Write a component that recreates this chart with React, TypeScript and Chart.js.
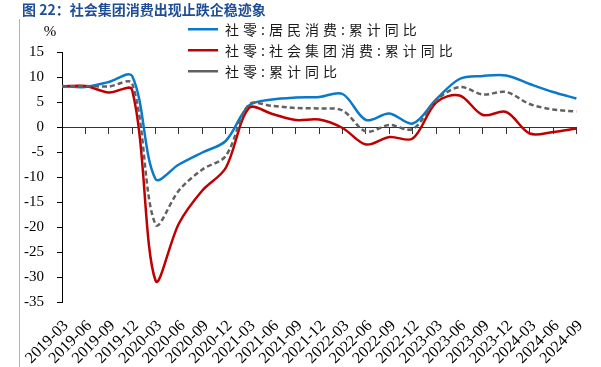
import React, { useEffect, useRef } from 'react';
import { Chart, registerables } from 'chart.js';

Chart.register(...registerables);

// ---------- data ----------
const TITLE = '图 22：社会集团消费出现止跌企稳迹象';
const UNIT = '%';
const CATEGORIES = [
  '2019-03', '2019-06', '2019-09', '2019-12',
  '2020-03', '2020-06', '2020-09', '2020-12',
  '2021-03', '2021-06', '2021-09', '2021-12',
  '2022-03', '2022-06', '2022-09', '2022-12',
  '2023-03', '2023-06', '2023-09', '2023-12',
  '2024-03', '2024-06', '2024-09',
];
const SERIES_NAMES = ['社零:居民消费:累计同比', '社零:社会集团消费:累计同比', '社零:累计同比'];
const HOUSEHOLD = [8.3, 8.1, 9.1, 10.3, -10.3, -7.4, -5.0, -2.7, 4.4, 5.6, 6.0, 6.1, 6.7, 1.5, 2.8, 0.8, 5.6, 9.7, 10.3, 10.4, 8.7, 7.1, 5.8];
const GROUP = [8.2, 8.3, 7.0, 7.5, -30.6, -19.2, -12.6, -8.1, 3.9, 2.7, 1.5, 1.6, -0.1, -3.4, -1.9, -2.2, 5.0, 6.4, 2.5, 3.1, -1.2, -0.9, -0.2];
const TOTAL = [8.2, 8.3, 8.2, 8.8, -19.4, -12.6, -8.4, -5.7, 4.6, 4.3, 3.9, 3.8, 3.4, -0.8, 0.5, -0.3, 5.4, 8.1, 6.6, 7.1, 4.7, 3.6, 3.2];
const Y_MIN = -35;
const Y_MAX = 15;
const Y_STEP = 5;

// ---------- styles ----------
const BLUE = '#0b79ca';
const RED = '#c00000';
const GRAY = '#616161';
const TITLE_COLOR = '#1f4e96';
const SERIF = '"Liberation Serif", "Times New Roman", serif';
const CJK = '"Noto Sans CJK SC", "Noto Sans", sans-serif';
const LEGEND_SPACING = '4px';
const LEGEND_X = 188;
const LEGEND_Y = 22.3;
const LEGEND_PAD = 7;
const TITLE_X = 22;
const TENSION = 0.33;

const legendPlacer = {
  id: 'legendPlacer',
  afterInit(chart: any) {
    const lg = chart.legend;
    if (!lg || lg._patched) return;
    lg._patched = true;
    const origFit = lg.fit.bind(lg);
    lg.fit = function () {
      const ctx = chart.ctx;
      const prev = ctx.letterSpacing;
      ctx.letterSpacing = LEGEND_SPACING;
      origFit();
      ctx.letterSpacing = prev;
      lg.height = 0;
    };
    const origDraw = lg.draw.bind(lg);
    lg.draw = function (...args: any[]) {
      const ctx = chart.ctx;
      ctx.save();
      ctx.letterSpacing = LEGEND_SPACING;
      origDraw(...args);
      ctx.restore();
    };
  },
  afterLayout(chart: any) {
    const lg = chart.legend;
    if (lg) {
      lg.left = LEGEND_X - LEGEND_PAD;
      lg.right = lg.left + 300;
      lg.top = LEGEND_Y - LEGEND_PAD;
      lg.bottom = lg.top + 80;
    }
    const tb = chart.titleBlock;
    if (tb) {
      tb.left = TITLE_X;
      tb.right = TITLE_X + 520;
    }
  },
};

const decorPlugin = {
  id: 'decor',
  afterDraw(chart: any) {
    const ctx = chart.ctx;
    ctx.save();
    ctx.strokeStyle = '#b4b4b4';
    ctx.lineWidth = 1;
    ctx.beginPath();
    ctx.moveTo(19.5, 19);
    ctx.lineTo(19.5, chart.height);
    ctx.stroke();
    ctx.fillStyle = '#000';
    ctx.font = '15px ' + SERIF;
    ctx.textAlign = 'center';
    ctx.textBaseline = 'middle';
    ctx.fillText(UNIT, 50, 32.5);
    ctx.restore();
  },
};

export default function App() {
  const ref = useRef<HTMLCanvasElement>(null);

  useEffect(() => {
    document.body.style.margin = '0';
    const canvas = ref.current;
    if (!canvas) return;
    const chart = new Chart(canvas, {
      type: 'line',
      data: {
        labels: CATEGORIES,
        datasets: [
          {
            label: SERIES_NAMES[0],
            data: HOUSEHOLD,
            borderColor: BLUE,
            backgroundColor: BLUE,
            borderWidth: 2.5,
            pointRadius: 0,
            tension: TENSION,
            fill: false,
            order: 2,
          },
          {
            label: SERIES_NAMES[1],
            data: GROUP,
            borderColor: RED,
            backgroundColor: RED,
            borderWidth: 2.5,
            pointRadius: 0,
            tension: TENSION,
            fill: false,
            order: 1,
          },
          {
            label: SERIES_NAMES[2],
            data: TOTAL,
            borderColor: GRAY,
            backgroundColor: GRAY,
            borderWidth: 2.5,
            borderDash: [5, 3],
            pointRadius: 0,
            tension: TENSION,
            fill: false,
            order: 0,
          },
        ],
      },
      options: {
        responsive: false,
        animation: false,
        devicePixelRatio: 1,
        layout: { padding: { left: 22, right: 24.6, top: 0, bottom: 0 } },
        plugins: {
          title: {
            display: true,
            text: TITLE,
            align: 'start',
            color: TITLE_COLOR,
            font: { family: CJK, size: 14, weight: 'bold', lineHeight: 1.2 },
            padding: { top: 1, bottom: 34.7 },
          },
          legend: {
            display: true,
            position: 'top',
            align: 'start',
            labels: {
              usePointStyle: true,
              pointStyle: 'line',
              pointStyleWidth: 30,
              boxHeight: 14,
              padding: LEGEND_PAD,
              color: '#1a1a1a',
              font: { family: CJK, size: 14 },
              sort: (a: any, b: any) => a.datasetIndex - b.datasetIndex,
            },
          },
          tooltip: { enabled: false },
        },
        scales: {
          x: {
            type: 'category',
            position: 'bottom',
            offset: false,
            border: { display: false },
            grid: { display: false, drawTicks: false },
            ticks: {
              autoSkip: false,
              maxRotation: 45,
              minRotation: 45,
              padding: 14,
              labelOffset: 4,
              color: '#000',
              font: { family: SERIF, size: 16 },
            },
            afterFit: (scale: any) => {
              scale.height = 64.5;
              scale.paddingLeft = 0;
              scale.paddingRight = 0;
            },
          },
          x2: {
            type: 'category',
            axis: 'x',
            labels: CATEGORIES,
            position: { y: 0 },
            offset: false,
            border: { display: true, color: '#333', width: 1 },
            grid: { display: true, drawOnChartArea: false, drawTicks: true, tickLength: 6, color: '#333' },
            ticks: { display: false },
          },
          y: {
            type: 'linear',
            position: 'left',
            min: Y_MIN,
            max: Y_MAX,
            border: { display: true, color: '#000', width: 1 },
            grid: { display: true, drawOnChartArea: false, drawTicks: true, tickLength: 5, color: '#000' },
            ticks: {
              stepSize: Y_STEP,
              padding: 13,
              color: '#000',
              font: { family: SERIF, size: 15 },
            },
            afterFit: (scale: any) => {
              scale.width = 40;
            },
          },
        },
      } as any,
      plugins: [legendPlacer, decorPlugin],
    });
    return () => chart.destroy();
  }, []);

  return (
    <div style={{ width: 601, height: 367 }}>
      <canvas ref={ref} width={601} height={367} style={{ display: 'block', width: 601, height: 367 }} />
    </div>
  );
}
